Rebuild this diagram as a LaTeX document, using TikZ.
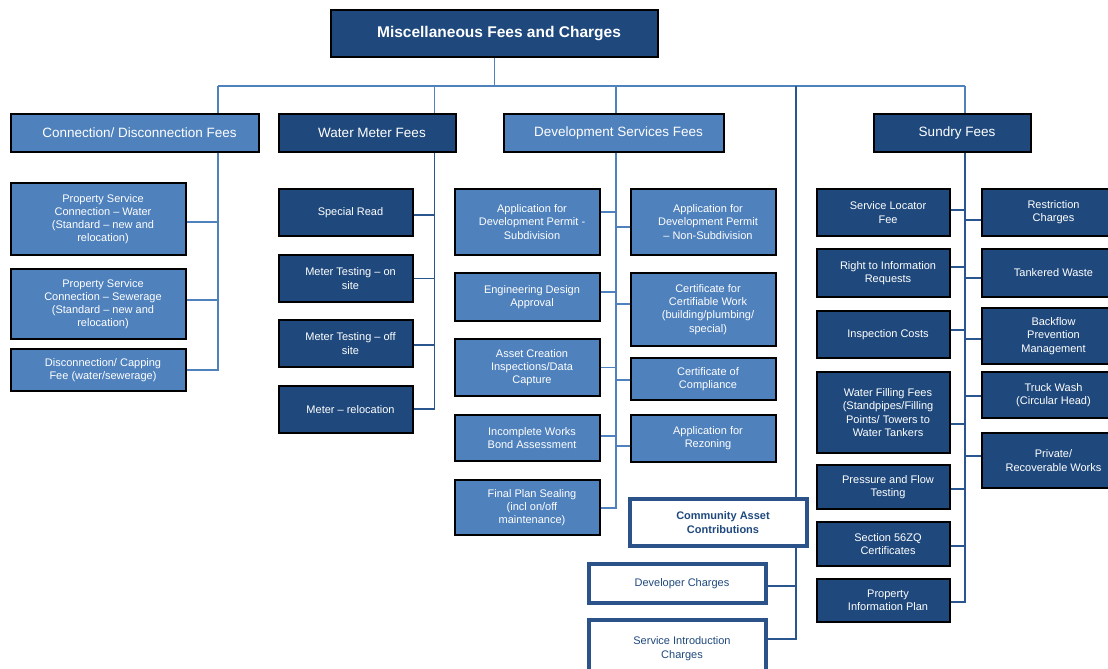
\documentclass[tikz,border=0pt]{standalone}
\usepackage{fontspec}
\setmainfont{Liberation Sans}
\definecolor{dfill}{HTML}{1F497D}
\definecolor{lfill}{HTML}{4F81BD}
\definecolor{lline}{HTML}{4F81BD}
\definecolor{dline}{HTML}{2A5690}
\definecolor{cbord}{HTML}{2B5389}
\definecolor{ctext}{HTML}{1F497D}
\tikzset{
  dbox/.style={draw=black, line width=1.7pt, fill=dfill, inner sep=0pt},
  lbox/.style={draw=black, line width=1.7pt, fill=lfill, inner sep=0pt},
  wbox/.style={draw=cbord, line width=3.2pt, fill=white, inner sep=0pt},
  stxt/.style={text=white, align=center, inner sep=0pt, font=\fontsize{11}{13.2}\selectfont},
  htxt/.style={text=white, align=center, inner sep=0pt, font=\fontsize{13.5}{16}\selectfont},
  ttxt/.style={text=white, align=center, inner sep=0pt, font=\fontsize{15.5}{18}\selectfont\bfseries},
  ctxt/.style={text=ctext, align=center, inner sep=0pt, font=\fontsize{11}{13.6}\selectfont},
  lconn/.style={draw=lline, line width=1.7pt},
  dconn/.style={draw=dline, line width=1.7pt},
}
\newcommand\mybox[8]{%
  \node[#2, minimum width={(#6-#4)*1pt}, minimum height={(#7-#5)*1pt}] (#1) at ({(#4+#6)/2},{(#5+#7)/2}) {};
  \node[#3] (#1-t) at ([xshift=4.5pt]#1.center) {#8};}
\begin{document}
\begin{tikzpicture}[x=1pt,y=-1pt]
\useasboundingbox (0,0) rectangle (1108,669);
\fill[white] (0,0) rectangle (1108,669);
\clip (0,0) rectangle (1108,669);
% spine x positions on the bus
\coordinate (cx) at (218,86);
\coordinate (mx) at (434.5,86);
\coordinate (dx) at (615.7,86);
\coordinate (ccx) at (796,86);
\coordinate (sx) at (965,86);
% bus and level-1 drops (drawn first, under the boxes)
\draw[lconn] (494.5,57) -- (494.5,86);
\draw[lconn] (cx) -- (sx);
\draw[lconn] (cx) -- (218,114);
\draw[lconn] (mx) -- (434.5,114);
\draw[lconn] (dx) -- (615.7,114);
\draw[lconn] (sx) -- (965,114);
\draw[dconn] (ccx) -- (796,499);
% title and level 1
\mybox{title}{dbox}{ttxt}{331}{10}{658}{57}{Miscellaneous Fees and Charges}
\mybox{conn}{lbox}{htxt}{11}{114}{259}{152}{Connection/ Disconnection Fees}
\mybox{meter}{dbox}{htxt}{279}{114}{456}{152}{Water Meter Fees}
\mybox{dev}{lbox}{htxt}{504}{114}{724}{152}{Development Services Fees}
\mybox{sun}{dbox}{htxt}{874}{114}{1031}{152}{Sundry Fees}
% connection column
\mybox{psw}{lbox}{stxt}{11}{183}{186}{255}{Property Service\\Connection – Water\\(Standard – new and\\relocation)}
\mybox{pss}{lbox}{stxt}{11}{269}{186}{339}{Property Service\\Connection – Sewerage\\(Standard – new and\\relocation)}
\mybox{dcf}{lbox}{stxt}{11}{349}{186}{391}{Disconnection/ Capping\\Fee (water/sewerage)}
% water meter column
\mybox{sr}{dbox}{stxt}{279}{189}{413}{236}{Special Read}
\mybox{mton}{dbox}{stxt}{279}{255}{413}{302}{Meter Testing – on\\site}
\mybox{mtoff}{dbox}{stxt}{279}{320}{413}{367}{Meter Testing – off\\site}
\mybox{mrel}{dbox}{stxt}{279}{386}{413}{433}{Meter – relocation}
% development services column
\mybox{ads}{lbox}{stxt}{455}{189}{600}{255}{Application for\\Development Permit -\\Subdivision}
\mybox{eda}{lbox}{stxt}{455}{273}{600}{321}{Engineering Design\\Approval}
\mybox{acd}{lbox}{stxt}{455}{339}{600}{396}{Asset Creation\\Inspections/Data\\Capture}
\mybox{iwb}{lbox}{stxt}{455}{415}{600}{461}{Incomplete Works\\Bond Assessment}
\mybox{fps}{lbox}{stxt}{455}{480}{600}{535}{Final Plan Sealing\\(incl on/off\\maintenance)}
\mybox{adn}{lbox}{stxt}{631}{189}{776}{255}{Application for\\Development Permit\\– Non-Subdivision}
\mybox{ccw}{lbox}{stxt}{631}{273}{776}{346}{Certificate for\\Certifiable Work\\(building/plumbing/\\special)}
\mybox{coc}{lbox}{stxt}{631}{358}{776}{400}{Certificate of\\Compliance}
\mybox{arz}{lbox}{stxt}{631}{415}{776}{462}{Application for\\Rezoning}
% sundry column
\mybox{slf}{dbox}{stxt}{817}{189}{950}{236}{Service Locator\\Fee}
\mybox{rti}{dbox}{stxt}{817}{249}{950}{297}{Right to Information\\Requests}
\mybox{ic}{dbox}{stxt}{817}{311}{950}{358}{Inspection Costs}
\mybox{wff}{dbox}{stxt}{817}{372}{950}{453}{Water Filling Fees\\(Standpipes/Filling\\Points/ Towers to\\Water Tankers}
\mybox{pft}{dbox}{stxt}{817}{465}{950}{509}{Pressure and Flow\\Testing}
\mybox{s56}{dbox}{stxt}{817}{522}{950}{566}{Section 56ZQ\\Certificates}
\mybox{pip}{dbox}{stxt}{817}{579}{950}{622}{Property\\Information Plan}
\mybox{rc}{dbox}{stxt}{982}{189}{1116}{236}{Restriction\\Charges}
\mybox{tw}{dbox}{stxt}{982}{249}{1116}{297}{Tankered Waste}
\mybox{bpm}{dbox}{stxt}{982}{308}{1116}{364}{Backflow\\Prevention\\Management}
\mybox{twc}{dbox}{stxt}{982}{372}{1116}{418}{Truck Wash\\(Circular Head)}
\mybox{prw}{dbox}{stxt}{982}{433}{1116}{488}{Private/\\Recoverable Works}
% community asset contributions
\mybox{cac}{wbox}{ctxt}{630}{499}{807}{546}{\bfseries Community Asset\\\bfseries Contributions}
\mybox{dch}{wbox}{ctxt}{589}{564}{766}{603}{Developer Charges}
\mybox{sic}{wbox}{ctxt}{589}{620}{766}{677}{Service Introduction\\Charges}
% spine tops
\coordinate (ctop) at (conn.south -| cx);
\coordinate (mtop) at (meter.south -| mx);
\coordinate (dtop) at (dev.south -| dx);
\coordinate (stop) at (sun.south -| sx);
\coordinate (cctop) at (cac.south -| ccx);
% connection children
\draw[lconn] ([yshift=-2.7pt]psw.east) -| (ctop);
\draw[lconn] ([yshift=4pt]pss.east) -| (ctop);
\draw[lconn] (dcf.east) -| (ctop);
% meter children
\draw[dconn] ([yshift=-2.5pt]sr.east) -| (mtop);
\draw[dconn] (mton.east) -| (mtop);
\draw[dconn] ([yshift=-1.5pt]mtoff.east) -| (mtop);
\draw[dconn] ([yshift=0.8pt]mrel.east) -| (mtop);
% development children
\draw[lconn] ([yshift=9.7pt]ads.east) -| (dtop);
\draw[lconn] ([yshift=5pt]eda.east) -| (dtop);
\draw[lconn] (acd.east) -| (dtop);
\draw[lconn] ([yshift=2.3pt]iwb.east) -| (dtop);
\draw[lconn] ([yshift=-0.8pt]fps.east) -| (dtop);
\draw[lconn] ([yshift=-4.7pt]adn.west) -| (dtop);
\draw[lconn] ([yshift=5.8pt]ccw.west) -| (dtop);
\draw[lconn] ([yshift=-1pt]coc.west) -| (dtop);
\draw[lconn] ([yshift=-7.5pt]arz.west) -| (dtop);
% sundry children
\draw[dconn] ([yshift=2.5pt]slf.east) -| (stop);
\draw[dconn] ([yshift=6.3pt]rti.east) -| (stop);
\draw[dconn] ([yshift=4.5pt]ic.east) -| (stop);
\draw[dconn] ([yshift=-11.5pt]wff.east) -| (stop);
\draw[dconn] ([yshift=-1.7pt]pft.east) -| (stop);
\draw[dconn] ([yshift=-2pt]s56.east) -| (stop);
\draw[dconn] ([yshift=-1.8pt]pip.east) -| (stop);
\draw[dconn] ([yshift=-7.5pt]rc.west) -| (stop);
\draw[dconn] ([yshift=-4.7pt]tw.west) -| (stop);
\draw[dconn] ([yshift=-3.3pt]bpm.west) -| (stop);
\draw[dconn] ([yshift=-1pt]twc.west) -| (stop);
\draw[dconn] ([yshift=4.5pt]prw.west) -| (stop);
% community children
\draw[dconn] ([yshift=-2.5pt]dch.east) -| (cctop);
\draw[dconn] ([yshift=9.2pt]sic.east) -| (cctop);
\end{tikzpicture}
\end{document}
